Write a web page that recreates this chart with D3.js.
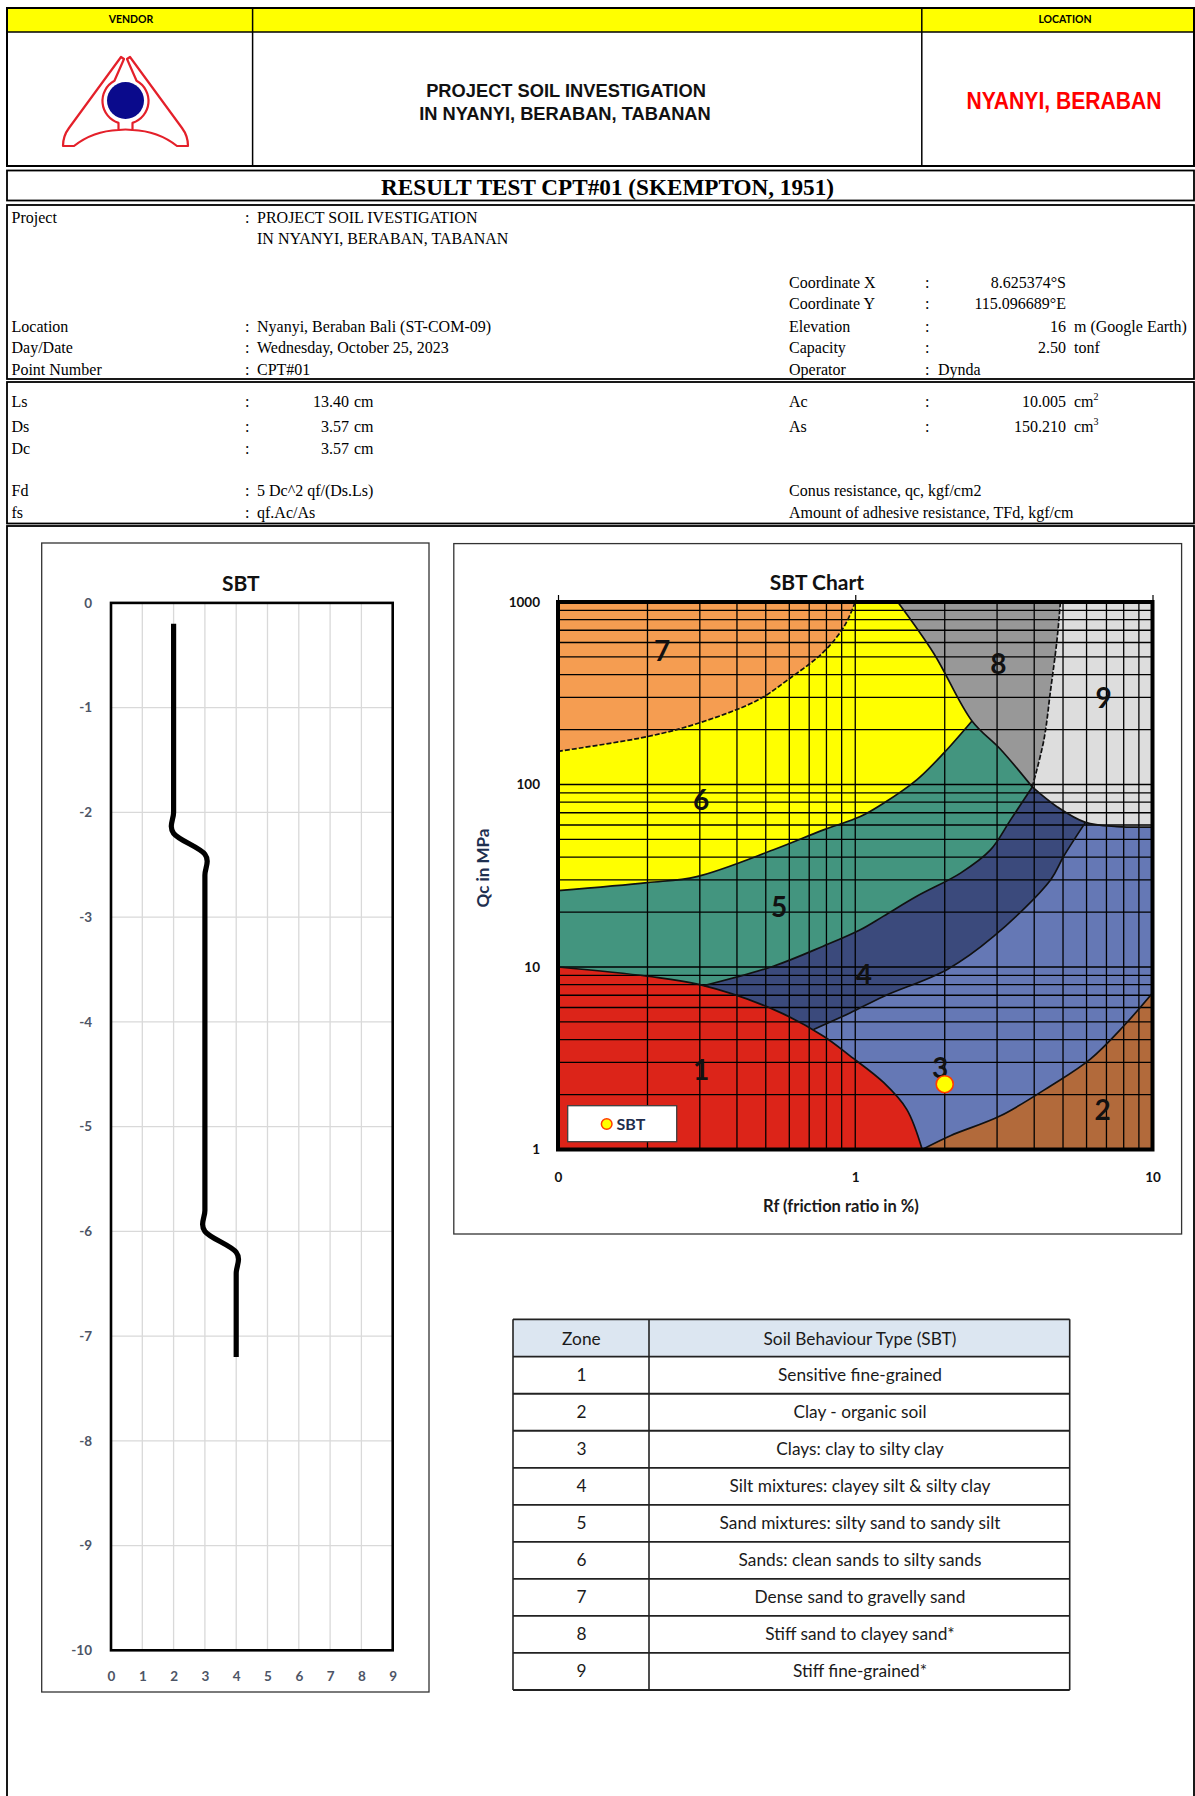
<!DOCTYPE html>
<html>
<head>
<meta charset="utf-8">
<script src="https://cdn.jsdelivr.net/npm/d3@7"></script>
<style>
  body { margin: 0; background: #fff; }
  svg { display: block; }
</style>
</head>
<body>
<svg id="sheet" width="1195" height="1796"></svg>
<script>
// ---------------- data ----------------
// SBT zone against depth (m)
const depthM = [-0.2, -0.4, -0.6, -0.8, -1.0, -1.2, -1.4, -1.6, -1.8, -2.0,
                -2.2, -2.4, -2.6, -2.8, -3.0, -3.2, -3.4, -3.6, -3.8, -4.0,
                -4.2, -4.4, -4.6, -4.8, -5.0, -5.2, -5.4, -5.6, -5.8, -6.0,
                -6.2, -6.4, -6.6, -6.8, -7.0, -7.2];
const sbtZone = [2, 2, 2, 2, 2, 2, 2, 2, 2, 2,
                 2, 3, 3, 3, 3, 3, 3, 3, 3, 3,
                 3, 3, 3, 3, 3, 3, 3, 3, 3, 3,
                 4, 4, 4, 4, 4, 4];
const depthTicks = [0, -1, -2, -3, -4, -5, -6, -7, -8, -9, -10];
const zoneTicks = [0, 1, 2, 3, 4, 5, 6, 7, 8, 9];

// SBT chart axes (log)
const rfTicks = [0.1, 1, 10];
const qcTicks = [1, 10, 100, 1000];
const rfGrid = [0.2, 0.3, 0.4, 0.5, 0.6, 0.7, 0.8, 0.9, 1, 2, 3, 4, 5, 6, 7, 8, 9];
const qcGrid = [2, 3, 4, 5, 6, 7, 8, 9, 10, 20, 30, 40, 50, 60, 70, 80, 90,
                100, 200, 300, 400, 500, 600, 700, 800, 900];

// measured point
const sbtPointRf = [2.0];
const sbtPointQc = [2.28];

// zone boundaries as [Rf %, Qc MPa]
const edge7to6 = [[0.1, 152], [0.2, 183], [0.3, 218], [0.47, 290], [0.6, 380], [0.78, 530], [0.92, 740], [1.0, 1000]];
const edge6to5 = [[0.1, 26.2], [0.2, 29], [0.293, 31.3], [0.531, 43.9], [0.782, 56.4], [1.04, 66.7], [1.245, 78.9], [1.61, 106], [1.98, 148], [2.47, 223]];
const edge8 = [[1.39, 1000], [1.84, 521], [2.47, 223], [3.08, 156], [3.94, 97]];
const edge8to9 = [[3.94, 97], [4.31, 175], [4.54, 328], [4.77, 616], [4.9, 1000]];
const edge9to3 = [[3.94, 97], [4.77, 75.6], [5.95, 62], [7.6, 58.8], [10, 58.4]];
const edge5to4 = [[0.31, 7.9], [0.53, 10.1], [0.78, 13], [1.04, 16], [1.245, 19], [1.61, 24.4], [2.26, 32.7], [2.85, 43.8], [3.33, 64], [3.94, 97]];
const edge4to3 = [[0.724, 4.55], [0.96, 5.6], [1.245, 6.9], [2.04, 9.7], [2.92, 14.7], [4.54, 30], [5.02, 40.3], [5.95, 62]];
const edge1 = [[0.1, 10], [0.2, 8.9], [0.3, 8.0], [0.53, 5.86], [0.78, 4.19], [0.96, 3.26], [1.245, 2.33], [1.49, 1.66], [1.68, 1.0]];
const edge3to2 = [[1.68, 1.0], [2.09, 1.19], [3.08, 1.53], [4.54, 2.23], [6.18, 3.13], [8.0, 4.75], [10, 7.2]];

const zoneNumbers = [1, 2, 3, 4, 5, 6, 7, 8, 9];
const zoneColors = ["#dc2419", "#b26a3b", "#6578b5", "#3b4a7c", "#43957f", "#ffff00", "#f59d51", "#989898", "#dddddd"];
const zoneLabelRf = [0.303, 6.79, 1.93, 1.07, 0.555, 0.303, 0.224, 3.03, 6.85];
const zoneLabelQc = [2.72, 1.64, 2.8, 9.0, 21.4, 82, 537, 455, 300];
const zoneNames = ["Sensitive fine-grained", "Clay - organic soil", "Clays: clay to silty clay",
                   "Silt mixtures: clayey silt & silty clay", "Sand mixtures: silty sand to sandy silt",
                   "Sands: clean sands to silty sands", "Dense sand to gravelly sand",
                   "Stiff sand to clayey sand*", "Stiff fine-grained*"];

// sheet texts
const infoLeft = [["Project", ": PROJECT SOIL IVESTIGATION"], ["", "IN NYANYI, BERABAN, TABANAN"],
                  ["Location", ": Nyanyi, Beraban Bali (ST-COM-09)"], ["Day/Date", ": Wednesday, October 25, 2023"],
                  ["Point Number", ": CPT#01"]];
const infoRight = [["Coordinate X", "8.625374°S", ""], ["Coordinate Y", "115.096689°E", ""],
                   ["Elevation", "16", "m (Google Earth)"], ["Capacity", "2.50", "tonf"]];
const probeLeft = [["Ls", "13.40"], ["Ds", "3.57"], ["Dc", "3.57"]];
const probeRight = [["Ac", "10.005", "2"], ["As", "150.210", "3"]];

// ---------------- fonts ----------------
const SERIF = "'Liberation Serif','Times New Roman',serif";
const SANS = "'Liberation Sans',Arial,sans-serif";
const NARROW = "'Liberation Sans Narrow','Liberation Sans',Arial,sans-serif";
const CAL = "Lato,'Open Sans',sans-serif";

const svg = d3.select("#sheet");

function text(g, x, y, s, o = {}) {
  return g.append("text").attr("x", x).attr("y", y).text(s)
    .attr("font-family", o.family || SERIF)
    .attr("font-size", o.size || 16)
    .attr("font-weight", o.weight || "normal")
    .attr("fill", o.fill || "#000")
    .attr("text-anchor", o.anchor || "start");
}
function box(g, x, y, w, h, sw = 1.8, stroke = "#000") {
  return g.append("rect").attr("x", x).attr("y", y).attr("width", w).attr("height", h)
    .attr("fill", "none").attr("stroke", stroke).attr("stroke-width", sw);
}

// ---------------- header ----------------
const head = svg.append("g");
head.append("rect").attr("x", 7).attr("y", 8).attr("width", 1187).attr("height", 24).attr("fill", "#ffff00");
box(head, 7, 8, 1187, 158, 2);
head.append("line").attr("x1", 7).attr("x2", 1194).attr("y1", 32).attr("y2", 32).attr("stroke", "#000").attr("stroke-width", 1.5);
[252.6, 921.8].forEach(x => head.append("line").attr("x1", x).attr("x2", x).attr("y1", 8).attr("y2", 166)
  .attr("stroke", "#000").attr("stroke-width", 1.5));
text(head, 131, 23, "VENDOR", { family: CAL, size: 10.5, weight: "bold", anchor: "middle" });
text(head, 1065, 23, "LOCATION", { family: CAL, size: 10.5, weight: "bold", anchor: "middle" });
text(head, 566, 97, "PROJECT SOIL INVESTIGATION", { family: SANS, size: 18.3, weight: "bold", anchor: "middle", fill: "#111" });
text(head, 565, 119.5, "IN NYANYI, BERABAN, TABANAN", { family: SANS, size: 18.3, weight: "bold", anchor: "middle", fill: "#111" });
text(head, 1064, 109, "NYANYI, BERABAN", { family: NARROW, size: 24.7, weight: "bold", anchor: "middle", fill: "#ff0000" })
  .attr("textLength", 195).attr("lengthAdjust", "spacingAndGlyphs");

// vendor logo
const logo = head.append("g");
const half = "M121,57 L69,128 Q63,136 63,146 L74,146 Q93,131 118.5,130 L118.5,122.9 A23 23 0 0 1 114.45 80.8 L124,59 Z";
logo.append("path").attr("d", half).attr("fill", "#fff").attr("stroke", "#e4202a").attr("stroke-width", 2.2).attr("stroke-linejoin", "round");
logo.append("path").attr("d", half).attr("transform", "translate(251,0) scale(-1,1)")
  .attr("fill", "#fff").attr("stroke", "#e4202a").attr("stroke-width", 2.2).attr("stroke-linejoin", "round");
logo.append("path").attr("d", "M118.5,130 Q125.5,129 132.5,130").attr("fill", "none").attr("stroke", "#e4202a").attr("stroke-width", 2.2);
logo.append("circle").attr("cx", 125.5).attr("cy", 100.5).attr("r", 18.5).attr("fill", "#0a0a8c");

// ---------------- report boxes ----------------
const rep = svg.append("g");
box(rep, 7, 170.5, 1187, 30);
box(rep, 7, 205, 1187, 174);
box(rep, 7, 382, 1187, 141.5);
box(rep, 7, 526, 1187, 1290);
text(rep, 607.5, 195, "RESULT TEST CPT#01 (SKEMPTON, 1951)", { size: 23.2, weight: "bold", anchor: "middle" });

const leftRowsY = [222.5, 243.5, 331.5, 353, 375];
infoLeft.forEach((r, i) => {
  if (r[0]) text(rep, 11.5, leftRowsY[i], r[0]);
  if (r[1].startsWith(":")) {
    text(rep, 245, leftRowsY[i], ":");
    text(rep, 257, leftRowsY[i], r[1].slice(2));
  } else text(rep, 257, leftRowsY[i], r[1]);
});
const rightRowsY = [287.5, 309, 331.5, 353];
infoRight.forEach((r, i) => {
  text(rep, 789, rightRowsY[i], r[0]);
  text(rep, 925, rightRowsY[i], ":");
  text(rep, 1066, rightRowsY[i], r[1], { anchor: "end" });
  if (r[2]) text(rep, 1074, rightRowsY[i], r[2]);
});
text(rep, 789, 375, "Operator");
text(rep, 925, 375, ":");
text(rep, 938, 375, "Dynda");

const probeY = [406.5, 432, 453.5];
probeLeft.forEach((r, i) => {
  text(rep, 11.5, probeY[i], r[0]);
  text(rep, 245, probeY[i], ":");
  text(rep, 349, probeY[i], r[1], { anchor: "end" });
  text(rep, 354, probeY[i], "cm");
});
probeRight.forEach((r, i) => {
  text(rep, 789, probeY[i], r[0]);
  text(rep, 925, probeY[i], ":");
  text(rep, 1066, probeY[i], r[1], { anchor: "end" });
  const t = text(rep, 1074, probeY[i], "cm");
  t.append("tspan").attr("dy", -7).attr("font-size", 10).text(r[2]);
});
text(rep, 11.5, 496, "Fd");
text(rep, 245, 496, ":");
text(rep, 257, 496, "5 Dc^2 qf/(Ds.Ls)");
text(rep, 11.5, 518, "fs");
text(rep, 245, 518, ":");
text(rep, 257, 518, "qf.Ac/As");
text(rep, 789, 496, "Conus resistance, qc, kgf/cm2");
text(rep, 789, 518, "Amount of adhesive resistance, TFd, kgf/cm");

// ---------------- SBT vs depth ----------------
const dep = svg.append("g");
box(dep, 41.7, 543, 387.3, 1149, 1.3, "#333");
const dx = d3.scaleLinear().domain([0, 9]).range([111, 392.7]);
const dy = d3.scaleLinear().domain([0, -10]).range([602.9, 1650.3]);
text(dep, 240.8, 591, "SBT", { family: CAL, size: 21, weight: "bold", anchor: "middle", fill: "#111" });

dep.append("g").selectAll("line").data(zoneTicks.slice(1, -1)).join("line")
  .attr("x1", d => dx(d)).attr("x2", d => dx(d)).attr("y1", dy(0)).attr("y2", dy(-10))
  .attr("stroke", "#d9d9d9").attr("stroke-width", 1.3);
dep.append("g").selectAll("line").data(depthTicks.slice(1, -1)).join("line")
  .attr("x1", dx(0)).attr("x2", dx(9)).attr("y1", d => dy(d)).attr("y2", d => dy(d))
  .attr("stroke", "#d9d9d9").attr("stroke-width", 1.3);

const depthLine = d3.line().x(d => dx(d[1])).y(d => dy(d[0])).curve(d3.curveCatmullRom.alpha(0));
dep.append("path").datum(depthM.map((d, i) => [d, sbtZone[i]]))
  .attr("d", depthLine).attr("fill", "none").attr("stroke", "#000").attr("stroke-width", 5.2);

dep.append("rect").attr("x", dx(0)).attr("y", dy(0)).attr("width", dx(9) - dx(0)).attr("height", dy(-10) - dy(0))
  .attr("fill", "none").attr("stroke", "#000").attr("stroke-width", 2.6);

const depAxisY = dep.append("g").attr("transform", `translate(${dx(0)},0)`)
  .call(d3.axisLeft(dy).tickValues(depthTicks).tickSize(0).tickPadding(19).tickFormat(d => String(d)));
const depAxisX = dep.append("g").attr("transform", `translate(0,${dy(-10)})`)
  .call(d3.axisBottom(dx).tickValues(zoneTicks).tickSize(0).tickPadding(21).tickFormat(d => String(d)));
[depAxisY, depAxisX].forEach(a => {
  a.select(".domain").remove();
  a.selectAll("text").attr("font-family", CAL).attr("font-size", 13.5).attr("font-weight", "bold").attr("fill", "#4d5566");
});

// ---------------- SBT chart ----------------
const sc = svg.append("g");
box(sc, 453.8, 543.6, 727.8, 690.4, 1.3, "#333");
const rx = d3.scaleLog().domain([0.1, 10]).range([558, 1152.5]);
const ry = d3.scaleLog().domain([1, 1000]).range([1149.5, 602]);
text(sc, 817, 590, "SBT Chart", { family: CAL, size: 21, weight: "bold", anchor: "middle", fill: "#111" });

sc.append("defs").append("clipPath").attr("id", "plotClip").append("rect")
  .attr("x", rx(0.1)).attr("y", ry(1000)).attr("width", rx(10) - rx(0.1)).attr("height", ry(1) - ry(1000));

const zoneLine = d3.line().x(d => rx(d[0])).y(d => ry(d[1])).curve(d3.curveCatmullRom.alpha(0.5));
const seg = pts => zoneLine(pts).replace(/^M/, "L");
const to = p => `L${rx(p[0])},${ry(p[1])}`;
const at = p => `M${rx(p[0])},${ry(p[1])}`;

// zones painted back to front; later shapes cover the open sides of earlier ones
const zonePaths = [
  { z: 3, d: at([0.1, 1]) + to([10, 1]) + to([10, 1000]) + to([0.1, 1000]) + "Z" },
  { z: 4, d: zoneLine(edge4to3) + to([5.95, 1000]) + to([0.1, 1000]) + to([0.1, 4.55]) + "Z" },
  { z: 5, d: zoneLine(edge5to4) + to([3.94, 1000]) + to([0.1, 1000]) + to([0.1, 7.9]) + "Z" },
  { z: 6, d: zoneLine(edge6to5) + to([2.47, 1000]) + to([0.1, 1000]) + "Z" },
  { z: 7, d: zoneLine(edge7to6) + to([0.1, 1000]) + "Z" },
  { z: 8, d: zoneLine(edge8) + seg(edge8to9) + "Z" },
  { z: 9, d: zoneLine(edge8to9) + to([10, 1000]) + to([10, 58.4]) + seg(edge9to3.slice().reverse()) + "Z" },
  { z: 1, d: at([0.1, 1]) + to([0.1, 10]) + seg(edge1) + "Z" },
  { z: 2, d: zoneLine(edge3to2) + to([10, 1]) + "Z" }
];

const fills = sc.append("g").attr("clip-path", "url(#plotClip)");
fills.selectAll("path").data(zonePaths).join("path")
  .attr("d", d => d.d).attr("fill", d => zoneColors[d.z - 1]).attr("stroke", "none");

// log grid
const grid = sc.append("g").attr("clip-path", "url(#plotClip)");
grid.selectAll(".gv").data(rfGrid).join("line").attr("class", "gv")
  .attr("x1", d => rx(d)).attr("x2", d => rx(d)).attr("y1", ry(1000)).attr("y2", ry(1))
  .attr("stroke", "#000").attr("stroke-width", 1.3);
grid.selectAll(".gh").data(qcGrid).join("line").attr("class", "gh")
  .attr("x1", rx(0.1)).attr("x2", rx(10)).attr("y1", d => ry(d)).attr("y2", d => ry(d))
  .attr("stroke", "#000").attr("stroke-width", 1.3);

// zone boundaries
const edges = [
  { pts: edge7to6, dash: "5,2" }, { pts: edge6to5 }, { pts: edge8 }, { pts: edge8to9, dash: "5,2" },
  { pts: edge9to3 }, { pts: edge5to4 }, { pts: edge4to3 }, { pts: edge1 }, { pts: edge3to2 }
];
const bounds = sc.append("g").attr("clip-path", "url(#plotClip)");
bounds.selectAll("path").data(edges).join("path")
  .attr("d", d => zoneLine(d.pts)).attr("fill", "none").attr("stroke", "#111")
  .attr("stroke-width", 1.7).attr("stroke-dasharray", d => d.dash || null);

// zone numbers
sc.append("g").selectAll("text").data(zoneNumbers).join("text")
  .attr("x", (d, i) => rx(zoneLabelRf[i])).attr("y", (d, i) => ry(zoneLabelQc[i]))
  .attr("dy", "0.36em").attr("text-anchor", "middle")
  .attr("font-family", CAL).attr("font-size", 28).attr("font-weight", "bold").attr("fill", "#111").text(d => d);

// measured point
sc.append("g").selectAll("circle").data(sbtPointRf).join("circle")
  .attr("cx", d => rx(d)).attr("cy", (d, i) => ry(sbtPointQc[i])).attr("r", 8.5)
  .attr("fill", "#ffff00").attr("stroke", "#ff3c00").attr("stroke-width", 1.6);

// legend
const leg = sc.append("g");
leg.append("rect").attr("x", 567.7).attr("y", 1105.7).attr("width", 109).attr("height", 36)
  .attr("fill", "#fff").attr("stroke", "#404040").attr("stroke-width", 1.3);
leg.append("circle").attr("cx", 606.7).attr("cy", 1124).attr("r", 5.3)
  .attr("fill", "#ffff00").attr("stroke", "#ff3c00").attr("stroke-width", 1.5);
text(leg, 616.5, 1129.7, "SBT", { family: CAL, size: 16, weight: "bold", fill: "#1f2d4d" });

// plot frame and axes
sc.append("rect").attr("x", rx(0.1)).attr("y", ry(1000)).attr("width", rx(10) - rx(0.1)).attr("height", ry(1) - ry(1000))
  .attr("fill", "none").attr("stroke", "#000").attr("stroke-width", 4);
const topTicks = sc.append("g").attr("transform", `translate(0,${ry(1000) - 2})`)
  .call(d3.axisTop(rx).tickValues(rfTicks).tickSize(5).tickFormat(""));
topTicks.select(".domain").remove();
topTicks.selectAll("line").attr("stroke", "#000").attr("stroke-width", 1.2);

const scAxisY = sc.append("g").attr("transform", `translate(${rx(0.1)},0)`)
  .call(d3.axisLeft(ry).tickValues(qcTicks).tickSize(0).tickPadding(18).tickFormat(d3.format("d")));
const scAxisX = sc.append("g").attr("transform", `translate(0,${ry(1)})`)
  .call(d3.axisBottom(rx).tickValues(rfTicks).tickSize(0).tickPadding(23).tickFormat(d3.format(".0f")));
[scAxisY, scAxisX].forEach(a => {
  a.select(".domain").remove();
  a.selectAll("text").attr("font-family", CAL).attr("font-size", 13.5).attr("font-weight", "bold").attr("fill", "#111");
});
text(sc, 0, 0, "Qc in MPa", { family: CAL, size: 17, weight: "bold", anchor: "middle", fill: "#1f3050" })
  .attr("transform", "translate(489,868) rotate(-90)");
text(sc, 841, 1212, "Rf (friction ratio in %)", { family: CAL, size: 16.5, weight: "bold", anchor: "middle", fill: "#1a1a1a" });

// ---------------- zone table ----------------
const tb = svg.append("g");
const tx0 = 513, tcol = 649, tx1 = 1069.7;
const rowY = d3.scaleLinear().domain([0, 9]).range([1356.7, 1690]);
tb.append("rect").attr("x", tx0).attr("y", 1319.3).attr("width", tx1 - tx0).attr("height", rowY(0) - 1319.3).attr("fill", "#dce6f1");
[1319.3].concat(d3.range(0, 10).map(i => rowY(i))).forEach(y =>
  tb.append("line").attr("x1", tx0).attr("x2", tx1).attr("y1", y).attr("y2", y).attr("stroke", "#222").attr("stroke-width", 1.8));
[tx0, tcol, tx1].forEach(x =>
  tb.append("line").attr("x1", x).attr("x2", x).attr("y1", 1319.3).attr("y2", 1690).attr("stroke", "#222").attr("stroke-width", 1.6));
const TFS = 17.3;
text(tb, 581.4, 1344.8, "Zone", { family: CAL, size: TFS, anchor: "middle", fill: "#1a1a1a" });
text(tb, 860, 1344.8, "Soil Behaviour Type (SBT)", { family: CAL, size: TFS, anchor: "middle", fill: "#1a1a1a" });
zoneNumbers.forEach((z, i) => {
  const yc = (rowY(i) + rowY(i + 1)) / 2 + 6;
  text(tb, 581.4, yc, String(z), { family: CAL, size: TFS, anchor: "middle", fill: "#1a1a1a" });
  text(tb, 860, yc, zoneNames[i], { family: CAL, size: TFS, anchor: "middle", fill: "#1a1a1a" });
});
</script>
</body>
</html>
